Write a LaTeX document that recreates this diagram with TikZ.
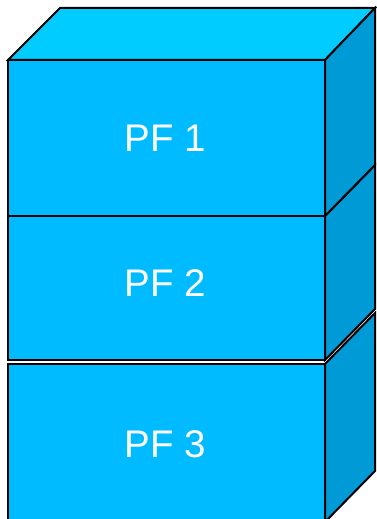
\documentclass[tikz,border=0pt]{standalone}
\usepackage{fontspec}
\setmainfont{Liberation Sans}
\definecolor{frontc}{HTML}{00BBFF}
\definecolor{topc}{HTML}{00CCFF}
\definecolor{sidec}{HTML}{009AD6}
\begin{document}
\begin{tikzpicture}[x=1pt,y=-1pt,
  face/.style={draw=black,line width=2pt,line join=miter},
  lbl/.style={text=white,font=\fontsize{38.5}{46}\selectfont,inner sep=0pt}]
\useasboundingbox (0,0) rectangle (376,519);
% box 3
\fill[frontc,face] (8,364) rectangle (325,522);
\fill[sidec,face] (325,364) -- (375,313) -- (375,471) -- (325,522) -- cycle;
% box 2
\fill[frontc,face] (8,216) rectangle (325,360);
\fill[sidec,face] (325,216) -- (375,165) -- (375,309) -- (325,360) -- cycle;
% box 1
\fill[frontc,face] (8,60) rectangle (325,216);
\fill[topc,face] (8,60) -- (60,8) -- (375,8) -- (325,60) -- cycle;
\fill[sidec,face] (325,60) -- (375,8) -- (375,165) -- (325,216) -- cycle;
\node[lbl] (pf1) at (165,138.5) {PF 1};
\node[lbl] (pf2) at (165,283) {PF 2};
\node[lbl] (pf3) at (165,444.5) {PF 3};
\end{tikzpicture}
\end{document}
